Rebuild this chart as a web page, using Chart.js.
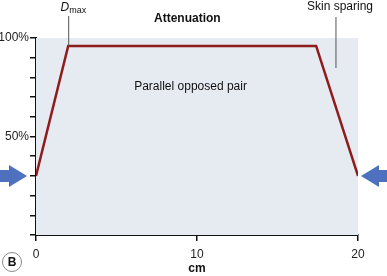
<!DOCTYPE html>
<html>
<head>
<meta charset="utf-8">
<script src="https://cdn.jsdelivr.net/npm/chart.js@4/dist/chart.umd.min.js"></script>
<style>
  html, body { margin: 0; padding: 0; background: #fff; }
  #wrap { width: 387px; height: 276px; position: relative; }
</style>
</head>
<body>
<div id="wrap"><canvas id="c"></canvas></div>
<script>
// data
const depthCm   = [0, 2, 17.4, 20];
const dosePct   = [30, 96, 96, 30];
const xTicks    = [0, 10, 20];
const yLabelled = [100, 50];

const INK = '#111';
const LINE_RED = '#8e1c1c';
const ARROW_BLUE = '#4f6fbf';

// shaded plot area + notes, arrows, panel letter
const decor = {
  id: 'decor',
  beforeDatasetsDraw(chart) {
    const { ctx, chartArea: a } = chart;
    ctx.save();
    ctx.fillStyle = '#e6eaf1';
    ctx.fillRect(a.left, a.top, a.right - a.left, a.bottom - a.top);
    ctx.restore();
  },
  afterDraw(chart) {
    const { ctx, chartArea: a, scales: { x, y } } = chart;
    ctx.save();
    ctx.fillStyle = INK;
    ctx.strokeStyle = '#555';
    ctx.lineWidth = 1;

    // title
    ctx.font = 'bold 12px "Liberation Sans", Arial, sans-serif';
    ctx.textAlign = 'center';
    ctx.textBaseline = 'middle';
    ctx.fillText('Attenuation', x.getPixelForValue(9.4), 19);

    // middle note
    ctx.font = '12px "Liberation Sans", Arial, sans-serif';
    ctx.fillText('Parallel opposed pair', x.getPixelForValue(9.6), 87);

    // Dmax
    const dx = x.getPixelForValue(depthCm[1]);
    ctx.beginPath();
    ctx.moveTo(dx + 0.5, 16);
    ctx.lineTo(dx + 0.5, y.getPixelForValue(dosePct[1]));
    ctx.stroke();
    ctx.font = 'italic 12px "Liberation Sans", Arial, sans-serif';
    ctx.textAlign = 'right';
    ctx.fillText('D', dx + 1, 8);
    ctx.font = '9px "Liberation Sans", Arial, sans-serif';
    ctx.textAlign = 'left';
    ctx.fillText('max', dx + 1, 11);

    // skin sparing
    const sx = x.getPixelForValue(18.6);
    ctx.beginPath();
    ctx.moveTo(sx + 0.5, 17);
    ctx.lineTo(sx + 0.5, 68);
    ctx.stroke();
    ctx.font = '12px "Liberation Sans", Arial, sans-serif';
    ctx.textAlign = 'center';
    ctx.fillText('Skin sparing', 340, 7);

    // beam arrows
    const ay = y.getPixelForValue(dosePct[0]);
    ctx.fillStyle = ARROW_BLUE;
    const arrow = (tip, dir) => {
      const head = 18, len = 27;
      ctx.beginPath();
      ctx.moveTo(tip, ay);
      ctx.lineTo(tip - dir * head, ay - 11);
      ctx.lineTo(tip - dir * head, ay - 6);
      ctx.lineTo(tip - dir * len, ay - 6);
      ctx.lineTo(tip - dir * len, ay + 6);
      ctx.lineTo(tip - dir * head, ay + 6);
      ctx.lineTo(tip - dir * head, ay + 11);
      ctx.closePath();
      ctx.fill();
    };
    arrow(a.left - 9, 1);
    arrow(a.right + 3, -1);

    // panel letter
    ctx.strokeStyle = '#888';
    ctx.beginPath();
    ctx.arc(12, 262, 9.5, 0, Math.PI * 2);
    ctx.stroke();
    ctx.fillStyle = INK;
    ctx.font = 'bold 12px "Liberation Sans", Arial, sans-serif';
    ctx.textAlign = 'center';
    ctx.fillText('B', 12, 263);
    ctx.restore();
  }
};

new Chart(document.getElementById('c'), {
  type: 'line',
  data: {
    datasets: [{
      data: depthCm.map((v, i) => ({ x: v, y: dosePct[i] })),
      borderColor: LINE_RED,
      borderWidth: 2.5,
      pointRadius: 0,
      tension: 0,
      fill: false,
    }],
  },
  options: {
    responsive: true, maintainAspectRatio: false, animation: false,
    layout: { padding: { top: 38, right: 29, left: 0, bottom: 0 } },
    plugins: { legend: { display: false }, tooltip: { enabled: false } },
    scales: {
      x: {
        type: 'linear', min: 0, max: 20,
        afterBuildTicks: s => { s.ticks = xTicks.map(v => ({ value: v })); },
        afterFit: s => { s.height = 41; },
        border: { color: INK, width: 2 },
        grid: { drawOnChartArea: false, color: INK, tickLength: 6, lineWidth: 1.5 },
        ticks: { color: '#222', padding: 6, font: { family: '"Liberation Sans", Arial', size: 12 } },
        title: { display: true, text: 'cm', color: INK, padding: 0,
                 font: { family: '"Liberation Sans", Arial', size: 12, weight: 'bold' } },
      },
      y: {
        min: 0, max: 100,
        afterFit: s => { s.width = 36; },
        border: { color: INK, width: 2 },
        grid: { drawOnChartArea: false, color: INK, tickLength: 6, lineWidth: 1.5 },
        ticks: {
          stepSize: 10, padding: 1, color: '#222',
          font: { family: '"Liberation Sans", Arial', size: 12 },
          callback: v => yLabelled.includes(v) ? v + '%' : '',
        },
      },
    },
  },
  plugins: [decor],
});
</script>
</body>
</html>
